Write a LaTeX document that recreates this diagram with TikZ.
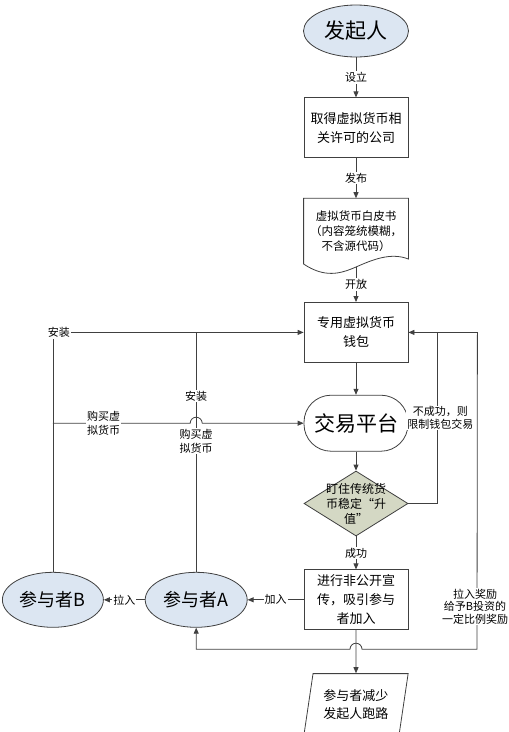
\documentclass[tikz,border=0pt]{standalone}
\usepackage{fontspec}
\setmainfont{Noto Sans CJK SC}
\usepackage{xcolor}
\usetikzlibrary{arrows.meta, positioning, shapes.geometric, calc}
\definecolor{lineGrey}{RGB}{64,64,64}
\definecolor{ovalBlue}{RGB}{220,230,242}
\definecolor{pegOlive}{RGB}{212,216,196}
\newcommand{\fsz}[2]{\fontsize{#1pt}{#2pt}\selectfont}

\begin{document}
\begin{tikzpicture}[
  x=1pt, y=-1pt,
  font=\fsz{13}{18.5},
  oval/.style={draw=lineGrey, ellipse, fill=ovalBlue, line width=0.8pt, inner sep=0pt},
  box/.style={draw=lineGrey, rectangle, align=center, minimum width=104pt, minimum height=60pt, inner sep=1pt, line width=0.8pt},
  tag/.style={fill=white, inner sep=1pt, align=center, font=\fsz{11}{14}},
  arrow/.style={-{Triangle[length=6pt, width=5pt]}, draw=lineGrey, line width=0.8pt},
  link/.style={draw=lineGrey, line width=0.8pt}
]
  \useasboundingbox (0,0) rectangle (509,732);

  % main column
  \node[oval, minimum width=105pt, minimum height=52pt, font=\fsz{21}{24}] (starter) at (356,31) {发起人};
  \node[box, below=40pt of starter] (company) {取得虚拟货币相\\关许可的公司};
  \node[box, draw=none, minimum height=65pt, font=\fsz{11.5}{15}, below=40pt of company] (paper) {虚拟货币白皮书\\（内容笼统模糊，\\不含源代码）};
  \node[box, font=\fsz{13}{19}, below=38pt of paper] (wallet) {专用虚拟货币\\钱包};
  \node[box, rounded corners=27pt, minimum height=56pt, font=\fsz{21}{24}, below=32pt of wallet] (market) {交易平台};
  \node[diamond, draw=lineGrey, fill=pegOlive, line width=0.8pt, minimum width=104pt, minimum height=65pt, inner sep=0pt, below=19pt of market,
    label={[font=\fsz{12}{15}, align=center]center:盯住传统货\\币稳定“升\\值”}] (peg) {};
  \node[box, font=\fsz{13}{19}, below=33pt of peg] (promo) {进行非公开宣\\传，吸引参与\\者加入};
  \node[trapezium, trapezium left angle=77, trapezium right angle=103, trapezium stretches=true, draw=lineGrey, line width=0.8pt,
    minimum width=105pt, minimum height=62pt, inner sep=0pt, align=center, font=\fsz{13}{18}, below=43pt of promo] (exit) {参与者减少\\发起人跑路};

  % participants
  \node[oval, minimum width=102pt, minimum height=55pt, font=\fsz{18}{20}, left=56pt of promo] (partA) {参与者A};
  \node[oval, minimum width=101pt, minimum height=55pt, font=\fsz{18}{20}, left=41pt of partA] (partB) {参与者B};

  % white paper outline
  \coordinate (paper-out) at ($(paper.south)+(0,-3pt)$);
  \draw[link] (paper.south west) -- (paper.north west) -- (paper.north east) -- ($(paper.south east)+(0,5pt)$)
    .. controls +(-18pt,7pt) and +(16pt,7pt) .. (paper-out)
    .. controls +(-16pt,-7pt) and +(21pt,-14pt) .. (paper.south west) -- cycle;

  \draw[arrow] (starter) -- node[tag]{设立} (company);
  \draw[arrow] (company) -- node[tag]{发布} (paper);
  \draw[arrow] (paper-out) -- node[tag]{开放} (wallet);
  \draw[arrow] (wallet) -- (market);
  \draw[arrow] (market) -- (peg);
  \draw[arrow] (peg) -- node[tag]{成功} (promo);
  \draw[arrow] (promo) -- (exit);
  \draw[arrow] (promo) -- node[tag]{加入} (partA);
  \draw[arrow] (partA) -- node[tag]{拉入} (partB);

  % failure loop back to the wallet
  \draw[arrow] (peg.east) -- ++(29pt,0) |- node[tag, pos=0.25, xshift=3pt, font=\fsz{11}{12.5}]{不成功，则\\限制钱包交易} (wallet.east);

  % reward loop
  \coordinate (reward-in) at ($(wallet.east)+(29pt,0)$);
  \coordinate (reward-top) at ($(wallet.east)+(69pt,0)$);
  \coordinate (reward-bot) at ($(promo.south)+(121pt,-19pt)$);
  \draw[arrow] (reward-in) -- (reward-top)
    -- node[tag, pos=0.866, xshift=-2pt, font=\fsz{11}{12.5}]{拉入奖励\\给予B投资的\\一定比例奖励} (reward-bot)
    -- ($(promo.south |- reward-bot)+(6pt,0)$) arc[start angle=0, end angle=180, radius=6pt]
    -- (partA.south |- reward-bot) -- (partA.south);

  % install and buy
  \draw[arrow] (partB.north) -- (partB.north |- wallet.west) node[tag, xshift=6pt]{安装} -- (wallet.west);
  \draw[link] (partA.north) -- node[tag, pos=0.547]{购买虚\\拟货币} node[tag, pos=0.733]{安装} (partA.north |- wallet.west);
  \draw[arrow] (partB.north |- market.west) -- node[tag, pos=0.37]{购买虚\\拟货币} ($(partA.north |- market.west)+(-6pt,0)$)
    arc[start angle=180, end angle=0, radius=6pt] -- (market.west);
\end{tikzpicture}
\end{document}
